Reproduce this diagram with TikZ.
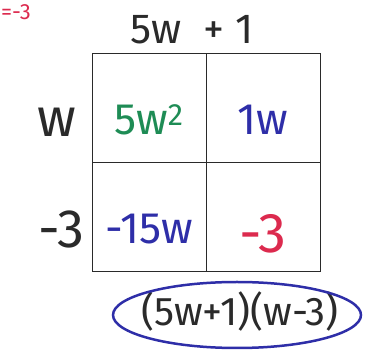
\documentclass[tikz,border=0pt]{standalone}
\usepackage{fontspec}
\setmainfont{Fira Sans}
\usetikzlibrary{positioning,shapes.geometric}
\definecolor{ink}{HTML}{2A2A2A}
\definecolor{leaf}{HTML}{1E8C55}
\definecolor{navy}{HTML}{2E2EA8}
\definecolor{rose}{HTML}{DC2A4E}
\tikzset{
  cell/.style={draw=ink,line width=1pt,minimum width=114pt,minimum height=109pt,inner sep=0pt,outer sep=0pt,text height=54pt,text depth=0pt,font=\fontsize{44}{48}\selectfont},
  factor/.style={text=ink,font=\fontsize{54}{58}\selectfont},
  loop/.style={draw=navy,line width=2.5pt,ellipse,inner sep=0pt}
}
\begin{document}
\begin{tikzpicture}[x=1pt,y=-1pt,node distance=0pt]
        \useasboundingbox (0,0) rectangle (367,352);
        \node[text=rose,anchor=west,inner sep=1pt,font=\fontsize{22}{24}\selectfont] (note) at (0,12) {=-3};
        \node[cell,text=leaf] (c11) at (149,108) {5w\textsuperscript{2}};
        \node[cell,text=navy,right=of c11] (c12) {1w};
        \node[cell,text=navy,below=of c11] (c21) {-15w};
        \node[cell,text=rose,right=of c21,text height=72pt,font=\fontsize{56}{60}\selectfont] (c22) {-3};
        \node[text=ink,font=\fontsize{42}{46}\selectfont] (top) at (192,30) {5w\ \ +\ 1};
        \node[factor,left=12pt of c11,yshift=-14pt] (fw) {w};
        \node[factor,left=4pt of c21,yshift=-12pt] (fm) {-3};
        \node[text=ink,font=\fontsize{40}{44}\selectfont] (prod) at (240,312) {(5w+1)(w-3)};
        \node[loop,minimum width=248pt,minimum height=66pt] (ring) at (237,315) {};
      \end{tikzpicture}
\end{document}
